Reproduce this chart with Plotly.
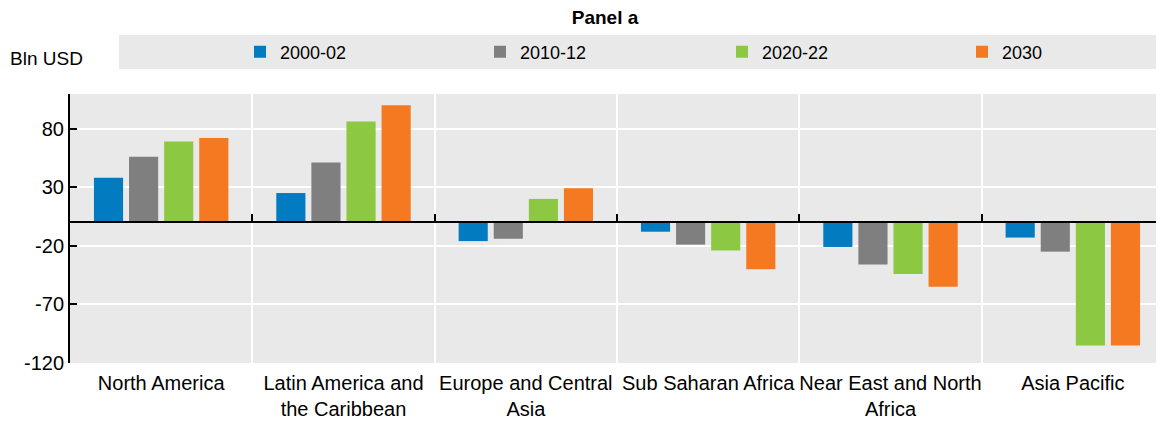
import plotly.graph_objects as go

# data (Bln USD)
regions = [
    "North America",
    "Latin America and<br>the Caribbean",
    "Europe and Central<br>Asia",
    "Sub Saharan Africa",
    "Near East and North<br>Africa",
    "Asia Pacific",
]
periods = ["2000-02", "2010-12", "2020-22", "2030"]
v_2000_02 = [38, 25, -16, -8, -21, -13]
v_2010_12 = [56, 51, -14, -19, -36, -25]
v_2020_22 = [69, 86, 20, -24, -44, -105]
v_2030 = [72, 100, 29, -40, -55, -105]
colors = ["#037bc1", "#7f7f7f", "#8cc841", "#f47920"]

y_range = [-120, 109.5]
y_ticks = [-120, -70, -20, 30, 80]
y_ticktext = ["-120", "-70", "-20", "30", "80"]

FONT = "Liberation Sans, Arial, sans-serif"
# the page body adds an 8px margin, so the figure is 8px smaller than the window
W, H = 1156, 417
L, R, T, B = 62, 0, 86, 62
PW, PH = W - L - R, H - T - B

fig = go.Figure()
legend_ids = ["legend", "legend2", "legend3", "legend4"]
for name, vals, col, lg in zip(periods, [v_2000_02, v_2010_12, v_2020_22, v_2030], colors, legend_ids):
    fig.add_trace(go.Bar(x=regions, y=vals, name=name, legend=lg,
                         marker=dict(color=col, line=dict(width=0))))

# helper trace so the zero-line axis (with boundary ticks) gets drawn
fig.add_trace(go.Scatter(x=regions, y=[None] * len(regions), xaxis="x2", mode="markers",
                         showlegend=False, hoverinfo="skip"))

zero_pos = (0 - y_range[0]) / (y_range[1] - y_range[0])

# one legend per series so the entries sit at the spacing of the reference
legend_px = [232, 472, 714, 954]
legends = {}
for lg, px in zip(legend_ids, legend_px):
    legends[lg] = dict(
        orientation="h",
        x=(px - L) / PW, xanchor="left",
        y=1 + (T - 44) / PH, yanchor="middle",
        bgcolor="rgba(0,0,0,0)",
        font=dict(size=18),
        itemwidth=30,
    )

fig.update_layout(
    width=W, height=H,
    margin=dict(l=L, r=R, t=T, b=B, autoexpand=False),
    paper_bgcolor="white",
    plot_bgcolor="#e9e9e9",
    font=dict(family=FONT, size=20, color="#000000"),
    barmode="group",
    bargap=0.23,
    bargroupgap=0.17,
    showlegend=True,
    title=dict(text="<b>Panel a</b>", x=597 / W, xref="container", xanchor="center",
               y=1 - 9 / H, yref="container", yanchor="middle", font=dict(size=19)),
    xaxis=dict(
        type="category",
        tickson="boundaries",
        showgrid=True, gridcolor="white", gridwidth=2,
        ticks="", showline=False, zeroline=False,
        tickangle=0, automargin=False,
        ticklabelstandoff=6,
        tickfont=dict(size=20),
    ),
    xaxis2=dict(
        type="category",
        overlaying="x", matches="x", anchor="free", position=zero_pos,
        side="bottom",
        tickson="boundaries",
        ticks="inside", ticklen=7, tickwidth=2, tickcolor="black",
        showline=True, linecolor="black", linewidth=2,
        showticklabels=False, showgrid=False, zeroline=False,
    ),
    yaxis=dict(
        range=y_range,
        tickvals=y_ticks, ticktext=y_ticktext,
        showgrid=True, gridcolor="white", gridwidth=2,
        zeroline=False,
        showline=True, linecolor="black", linewidth=2,
        ticks="inside", ticklen=7, tickwidth=2, tickcolor="black",
        automargin=False,
        tickfont=dict(size=20),
    ),
    shapes=[
        dict(type="rect", xref="paper", yref="paper",
             x0=(111 - L) / PW, x1=1.0, y0=1 + (T - 61) / PH, y1=1 + (T - 27) / PH,
             fillcolor="#e9e9e9", line=dict(width=0), layer="below"),
    ],
    annotations=[
        dict(text="Bln USD", xref="paper", yref="paper", x=(0 - L) / PW, y=1 + (T - 50) / PH,
             xanchor="left", yanchor="middle", showarrow=False, font=dict(size=19)),
    ],
    **legends,
)

fig.write_html("out.html")
